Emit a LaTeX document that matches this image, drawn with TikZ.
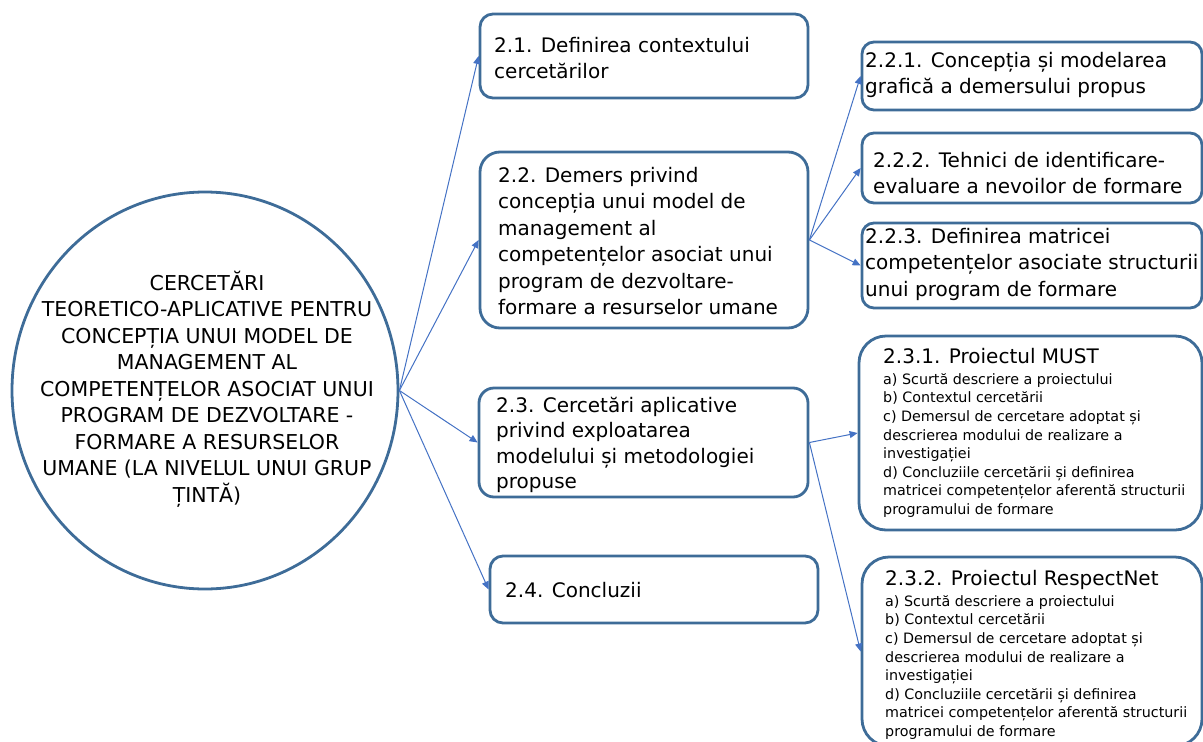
\documentclass[tikz,border=0pt]{standalone}
\usepackage{fontspec}
\setmainfont{DejaVu Sans}
\usetikzlibrary{shapes.geometric,arrows.meta}
\definecolor{frame}{RGB}{62,108,152}
\definecolor{link}{RGB}{68,114,196}

% rounded panel given by its corners (x1,y1) (x2,y2) and corner radius
\newcommand\panel[6]{%
  \node[box, rounded corners=#6pt, minimum width={#4-#2}, minimum height={#5-#3}]
    (#1) at ({(#2+#4)/2},{(#3+#5)/2}) {};}
% first-line struts: a block's top lies one font size above its first baseline
\newcommand\bigstrut{\rule{0pt}{20pt}}
\newcommand\smallstrut{\rule{0pt}{14pt}}

\begin{document}
\begin{tikzpicture}[x=1pt,y=-1pt,
  box/.style={draw=frame, line width=2.8pt, fill=white, inner sep=0pt},
  hub/.style={ellipse, draw=frame, line width=2.8pt, inner sep=0pt,
    minimum width=386pt, minimum height=397pt},
  txt/.style={align=left, inner sep=0pt, anchor=north west,
    font=\fontsize{20}{26.5}\selectfont},
  note/.style={align=left, inner sep=0pt, anchor=north west,
    font=\fontsize{14.3}{18.6}\selectfont},
  link/.style={draw=link, line width=1pt, -{Triangle[length=8pt,width=7pt]}}]

\useasboundingbox (0,0) rectangle (1203,742);

% central topic (first baseline at 290)
\node[hub] (c) at (205,390.5) {};
\node[align=center, inner sep=0pt, anchor=north,
      font=\fontsize{20.5}{26.5}\selectfont] (ct) at (207,270)
  {\bigstrut CERCETĂRI\\TEORETICO-APLICATIVE PENTRU\\CONCEPȚIA UNUI MODEL DE\\MANAGEMENT AL\\COMPETENȚELOR ASOCIAT UNUI\\PROGRAM DE DEZVOLTARE -\\FORMARE A RESURSELOR\\UMANE (LA NIVELUL UNUI GRUP\\ȚINTĂ)};

% first level
\panel{b21}{480}{14}{808}{98}{13}
\panel{b22}{480}{152}{808}{328}{20}
\panel{b23}{479}{388}{808}{497}{15}
\panel{b24}{490}{556}{818}{623}{13}

\node[txt] (t21) at (494,32) {\bigstrut 2.1. Definirea contextului\\cercetărilor};
\node[txt] (t22) at (498,162) {\bigstrut 2.2. Demers privind\\concepția unui model de\\management al\\competențelor asociat unui\\program de dezvoltare-\\formare a resurselor umane};
\node[txt, font=\fontsize{20}{25.5}\selectfont] (t23) at (496,392) {\bigstrut 2.3. Cercetări aplicative\\privind exploatarea\\modelului și metodologiei\\propuse};
\node[txt] (t24) at (505,577) {\bigstrut 2.4. Concluzii};

% second level under 2.2
\panel{b221}{862}{42}{1202}{110}{12}
\panel{b222}{862}{133}{1202}{203}{12}
\panel{b223}{862}{223}{1202}{308}{12}

\node[txt] (t221) at (865,47) {\bigstrut 2.2.1. Concepția și modelarea\\grafică a demersului propus};
\node[txt] (t222) at (873,147) {\bigstrut 2.2.2. Tehnici de identificare-\\evaluare a nevoilor de formare};
\node[txt] (t223) at (865,223) {\bigstrut 2.2.3. Definirea matricei\\competențelor asociate structurii\\unui program de formare};

% second level under 2.3
\panel{b231}{859}{336}{1202}{530}{27}
\panel{b232}{862}{557}{1202}{746}{27}

\node[txt] (h231) at (883,343) {\bigstrut 2.3.1. Proiectul MUST};
\node[note] (n231) at (883,370) {\smallstrut a) Scurtă descriere a proiectului\\b) Contextul cercetării\\c) Demersul de cercetare adoptat și\\descrierea modului de realizare a\\investigației\\d) Concluziile cercetării și definirea\\matricei competențelor aferentă structurii\\programului de formare};
\node[txt] (h232) at (885,565) {\bigstrut 2.3.2. Proiectul RespectNet};
\node[note] (n232) at (885,592) {\smallstrut a) Scurtă descriere a proiectului\\b) Contextul cercetării\\c) Demersul de cercetare adoptat și\\descrierea modului de realizare a\\investigației\\d) Concluziile cercetării și definirea\\matricei competențelor aferentă structurii\\programului de formare};

% connectors
\draw[link] (c.east) -- (b21.west);
\draw[link] (c.east) -- (b22.west);
\draw[link] (c.east) -- (b23.west);
\draw[link] (c.east) -- (b24.west);
\draw[link] (b22.east) -- (b221.west);
\draw[link] (b22.east) -- (b222.west);
\draw[link] (b22.east) -- (b223.west);
\draw[link] (b23.east) -- (b231.west);
\draw[link] (b23.east) -- (b232.west);
\end{tikzpicture}
\end{document}
